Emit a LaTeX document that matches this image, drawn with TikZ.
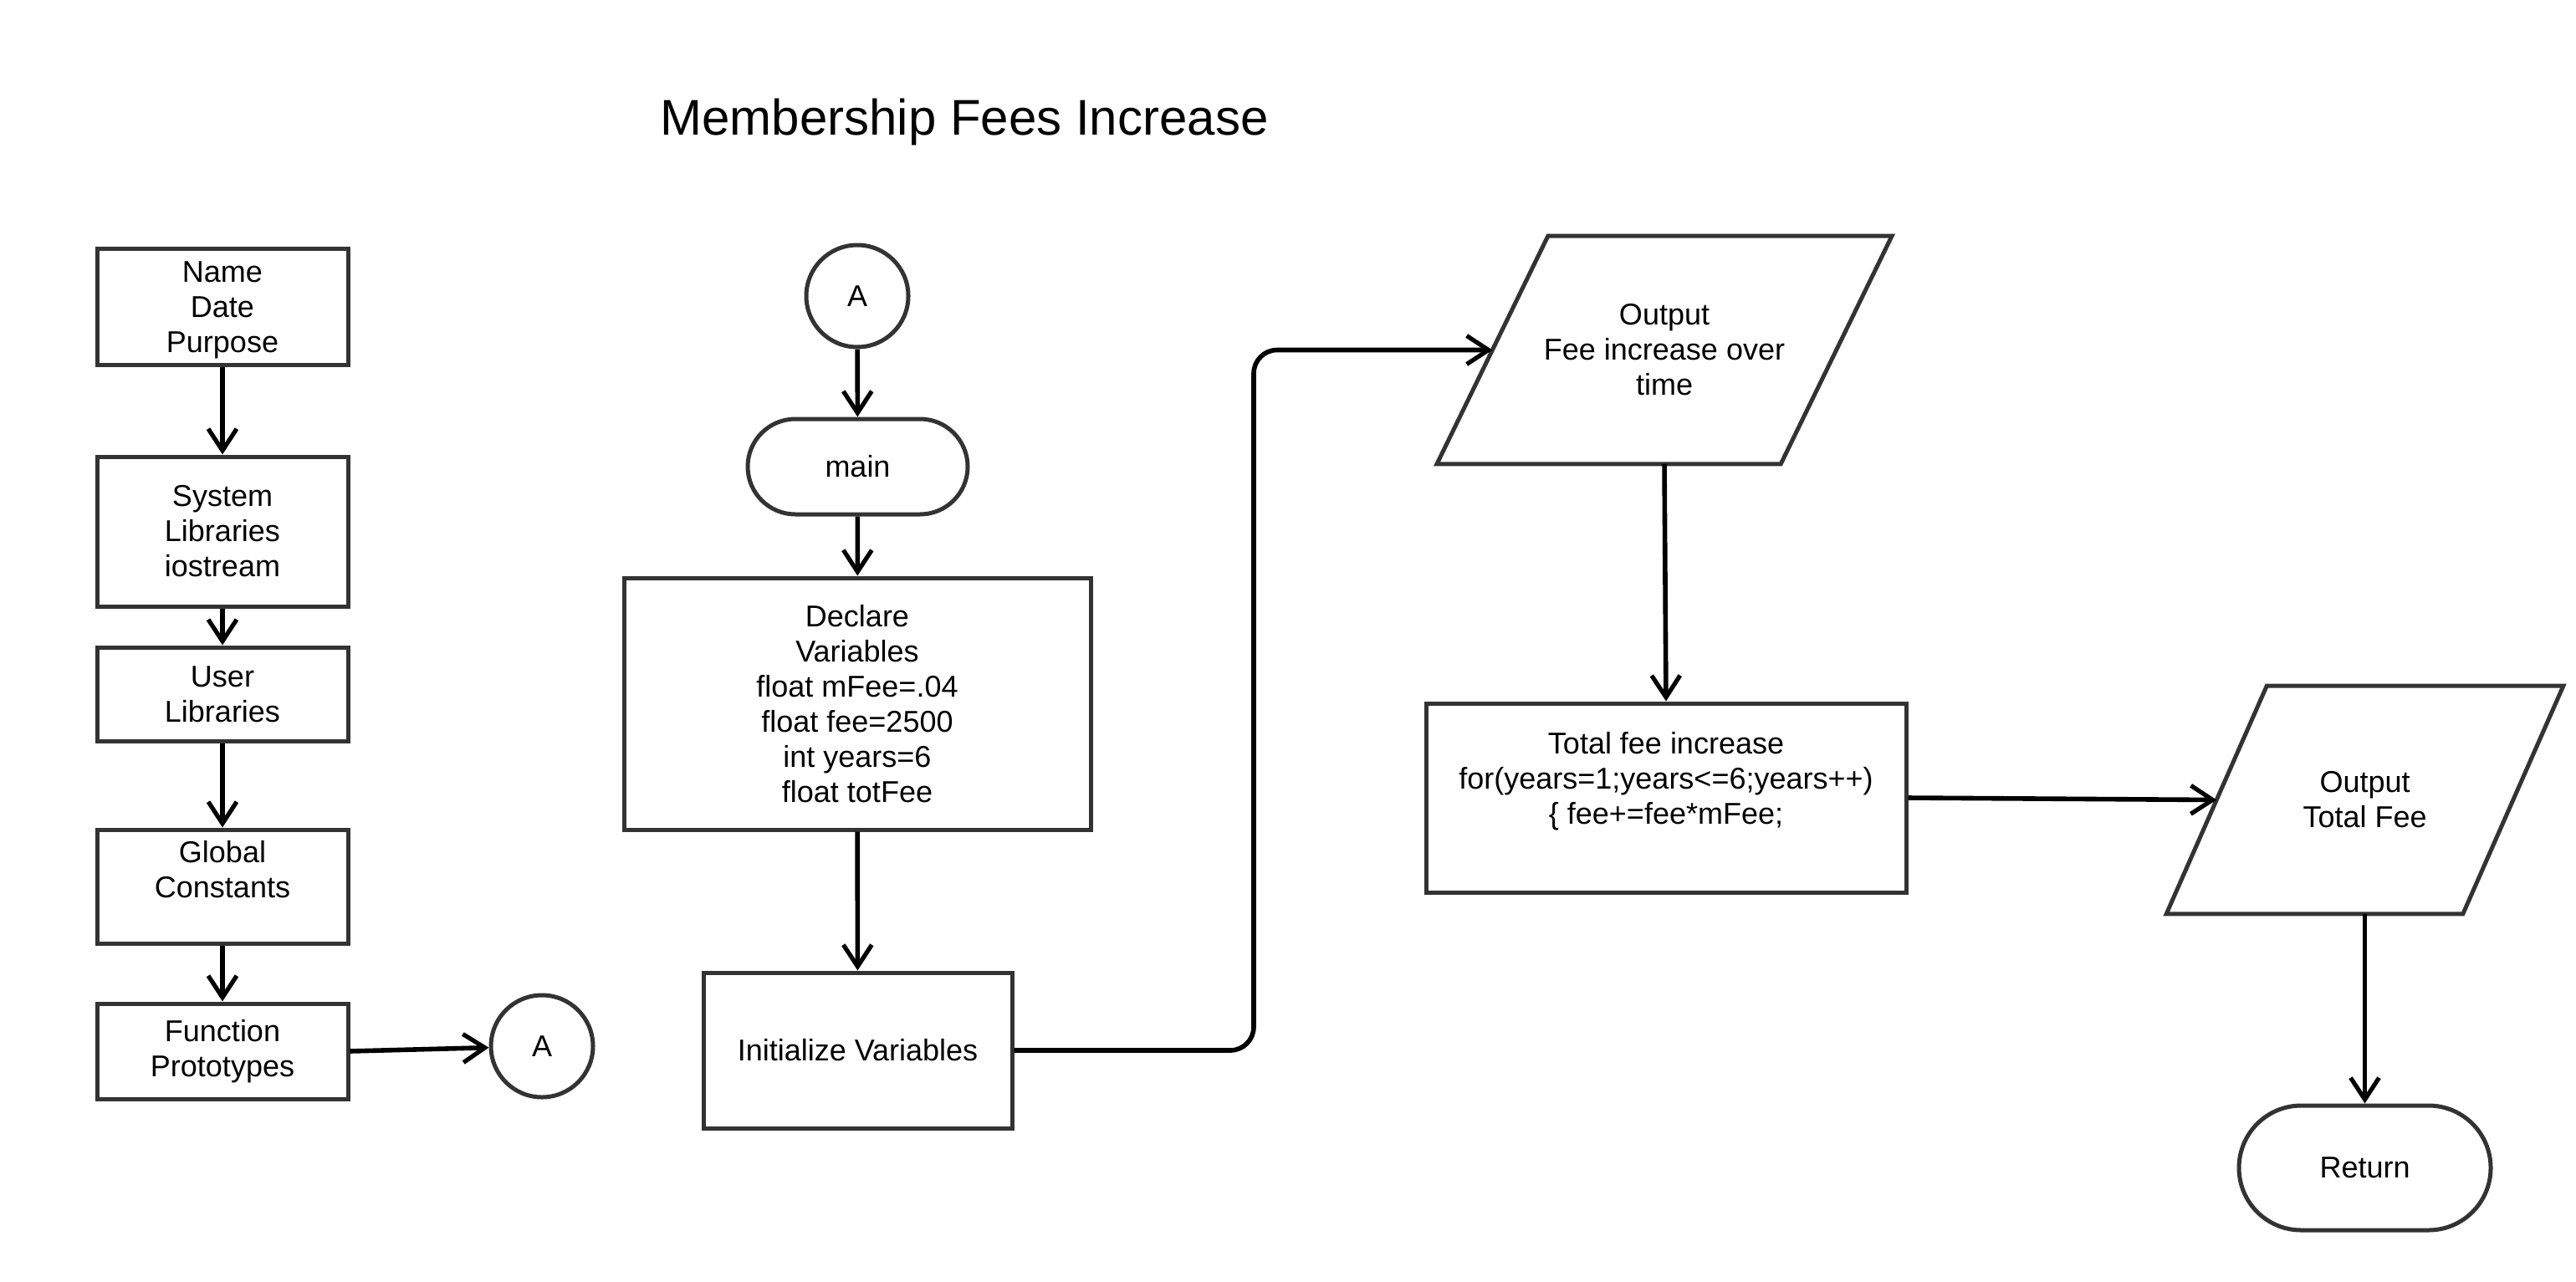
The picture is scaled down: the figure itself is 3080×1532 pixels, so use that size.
\documentclass[tikz,border=0pt]{standalone}
\usepackage{fontspec}
\setmainfont{Liberation Sans}
\usetikzlibrary{arrows.meta}
\definecolor{bord}{HTML}{333333}
\begin{document}
\begin{tikzpicture}[x=0.25pt,y=-0.25pt,
  every node/.style={font=\fontsize{9}{10.5}\selectfont, align=center, inner sep=0pt, text=black},
  box/.style={draw=bord, line width=1.25pt, rectangle},
  term/.style={draw=bord, line width=1.25pt, rectangle, rounded corners=#1},
  conn/.style={draw=bord, line width=1.25pt, circle, minimum size=30.5pt},
  io/.style={rectangle, draw=none},
  para/.style={draw=bord, line width=1.25pt},
  arr/.style={-{Straight Barb[length=6.5pt,width=8.5pt,line width=1.3pt]}, line width=1.4pt, draw=black},
]
\useasboundingbox (0,0) rectangle (3080,1532);
\fill[white] (0,0) rectangle (3080,1532);

% title
\node[font=\fontsize{15}{18}\selectfont] (title) at (1153,146) {Membership Fees Increase};

% left column
\node[box, minimum width=75pt, minimum height=34.75pt] (name) at (266,366.5) {};
\node (nametxt) at ([yshift=-1pt]name.center) {Name\\Date\\Purpose};
\node[box, minimum width=75pt, minimum height=44.75pt] (sys) at (266,635.5) {System\\Libraries\\iostream};
\node[box, minimum width=75pt, minimum height=28pt] (user) at (266,830) {User\\Libraries};
\node[box, minimum width=75pt, minimum height=34pt] (glob) at (266,1060) {};
\node (globtxt) at ([yshift=5pt]glob.center) {Global\\Constants};
\node[box, minimum width=75pt, minimum height=28.5pt] (func) at (266,1257) {Function\\Prototypes};
\node[conn] (a1) at (648,1251) {A};

\draw[arr] (name) -- (sys);
\draw[arr] (sys) -- (user);
\draw[arr] (user) -- (glob);
\draw[arr] (glob) -- (func);
\draw[arr] (func.east) -- (a1);

% middle column
\node[conn] (a2) at (1025,354) {A};
\node[term=14.25pt, minimum width=65.75pt, minimum height=28.5pt] (main) at (1025.5,558) {main};
\node[box, minimum width=139.5pt, minimum height=75.25pt] (decl) at (1025,841.5)
  {Declare\\Variables\\float mFee=.04\\float fee=2500\\int years=6\\float totFee};
\node[box, minimum width=92.25pt, minimum height=46.5pt] (init) at (1025.5,1256) {Initialize Variables};

\draw[arr] (a2) -- (main);
\draw[arr] (main) -- (decl);
\draw[arr] (decl) -- (init);

% output 1
\node[io, minimum width=102.4pt, minimum height=67.75pt] (out1) at (1990,418.5) {Output\\Fee increase over\\time};
\draw[para] ([xshift=-16.6pt]out1.south west) -- ([xshift=-16.6pt]out1.south east)
  -- ([xshift=16.6pt]out1.north east) -- ([xshift=16.6pt]out1.north west) -- cycle;

\coordinate (bend) at (1499,418.5);
\draw[arr, rounded corners=7pt] (init.east) -| (bend) -- (out1.west);

% total
\node[box, minimum width=143.5pt, minimum height=56.5pt] (tot) at (1992,954) {};
\node (tottxt) at ([yshift=5pt]tot.center) {Total fee increase\\for(years=1;years<=6;years++)\\\{ fee+=fee*mFee;};
\draw[arr] (out1.south) -- (tot.north);

% output 2
\node[io, minimum width=88.25pt, minimum height=67.75pt] (out2) at (2827.5,956.5) {Output\\Total Fee};
\draw[para] ([xshift=-15pt]out2.south west) -- ([xshift=-15pt]out2.south east)
  -- ([xshift=15pt]out2.north east) -- ([xshift=15pt]out2.north west) -- cycle;
\draw[arr] (tot.east) -- (out2.west);

% return
\node[term=18.6pt, minimum width=75.25pt, minimum height=37.25pt] (ret) at (2827.5,1396.5) {Return};
\draw[arr] (out2.south) -- (ret.north);
\end{tikzpicture}
\end{document}
